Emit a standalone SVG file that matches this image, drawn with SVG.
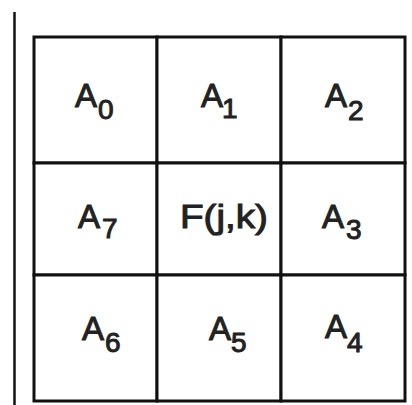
<svg xmlns="http://www.w3.org/2000/svg" width="412" height="405" viewBox="0 0 412 405">
<style>
.cell{fill:#fff;stroke:#111;stroke-width:3}
.t{font-family:"Liberation Sans",Arial,sans-serif;font-size:33px;fill:#222;stroke:#222;stroke-width:1}
.s{font-size:28px}
</style>
<rect width="412" height="405" fill="#fff"/>
<line x1="14.5" y1="12" x2="14.5" y2="405" stroke="#111" stroke-width="2.5"/>
<g id="A0"><rect class="cell" x="34" y="37" width="123" height="126"/><text class="t" x="75" y="107">A<tspan class="s" x="98" y="119">0</tspan></text></g>
<g id="A1"><rect class="cell" x="157" y="37" width="124" height="126"/><text class="t" x="201" y="107">A<tspan class="s" x="222" y="118">1</tspan></text></g>
<g id="A2"><rect class="cell" x="281" y="37" width="124" height="126"/><text class="t" x="325" y="107">A<tspan class="s" x="348" y="120">2</tspan></text></g>
<g id="A7"><rect class="cell" x="34" y="163" width="123" height="112"/><text class="t" x="78" y="228">A<tspan class="s" x="102" y="238">7</tspan></text></g>
<g id="F"><rect class="cell" x="157" y="163" width="124" height="112"/><text class="t" x="180" y="228" textLength="88" lengthAdjust="spacingAndGlyphs">F(j,k)</text></g>
<g id="A3"><rect class="cell" x="281" y="163" width="124" height="112"/><text class="t" x="322" y="228">A<tspan class="s" x="346" y="239">3</tspan></text></g>
<g id="A6"><rect class="cell" x="34" y="275" width="123" height="126"/><text class="t" x="82" y="340">A<tspan class="s" x="105" y="352">6</tspan></text></g>
<g id="A5"><rect class="cell" x="157" y="275" width="124" height="126"/><text class="t" x="209" y="340">A<tspan class="s" x="231" y="352">5</tspan></text></g>
<g id="A4"><rect class="cell" x="281" y="275" width="124" height="126"/><text class="t" x="325" y="338">A<tspan class="s" x="347" y="352">4</tspan></text></g>
</svg>
